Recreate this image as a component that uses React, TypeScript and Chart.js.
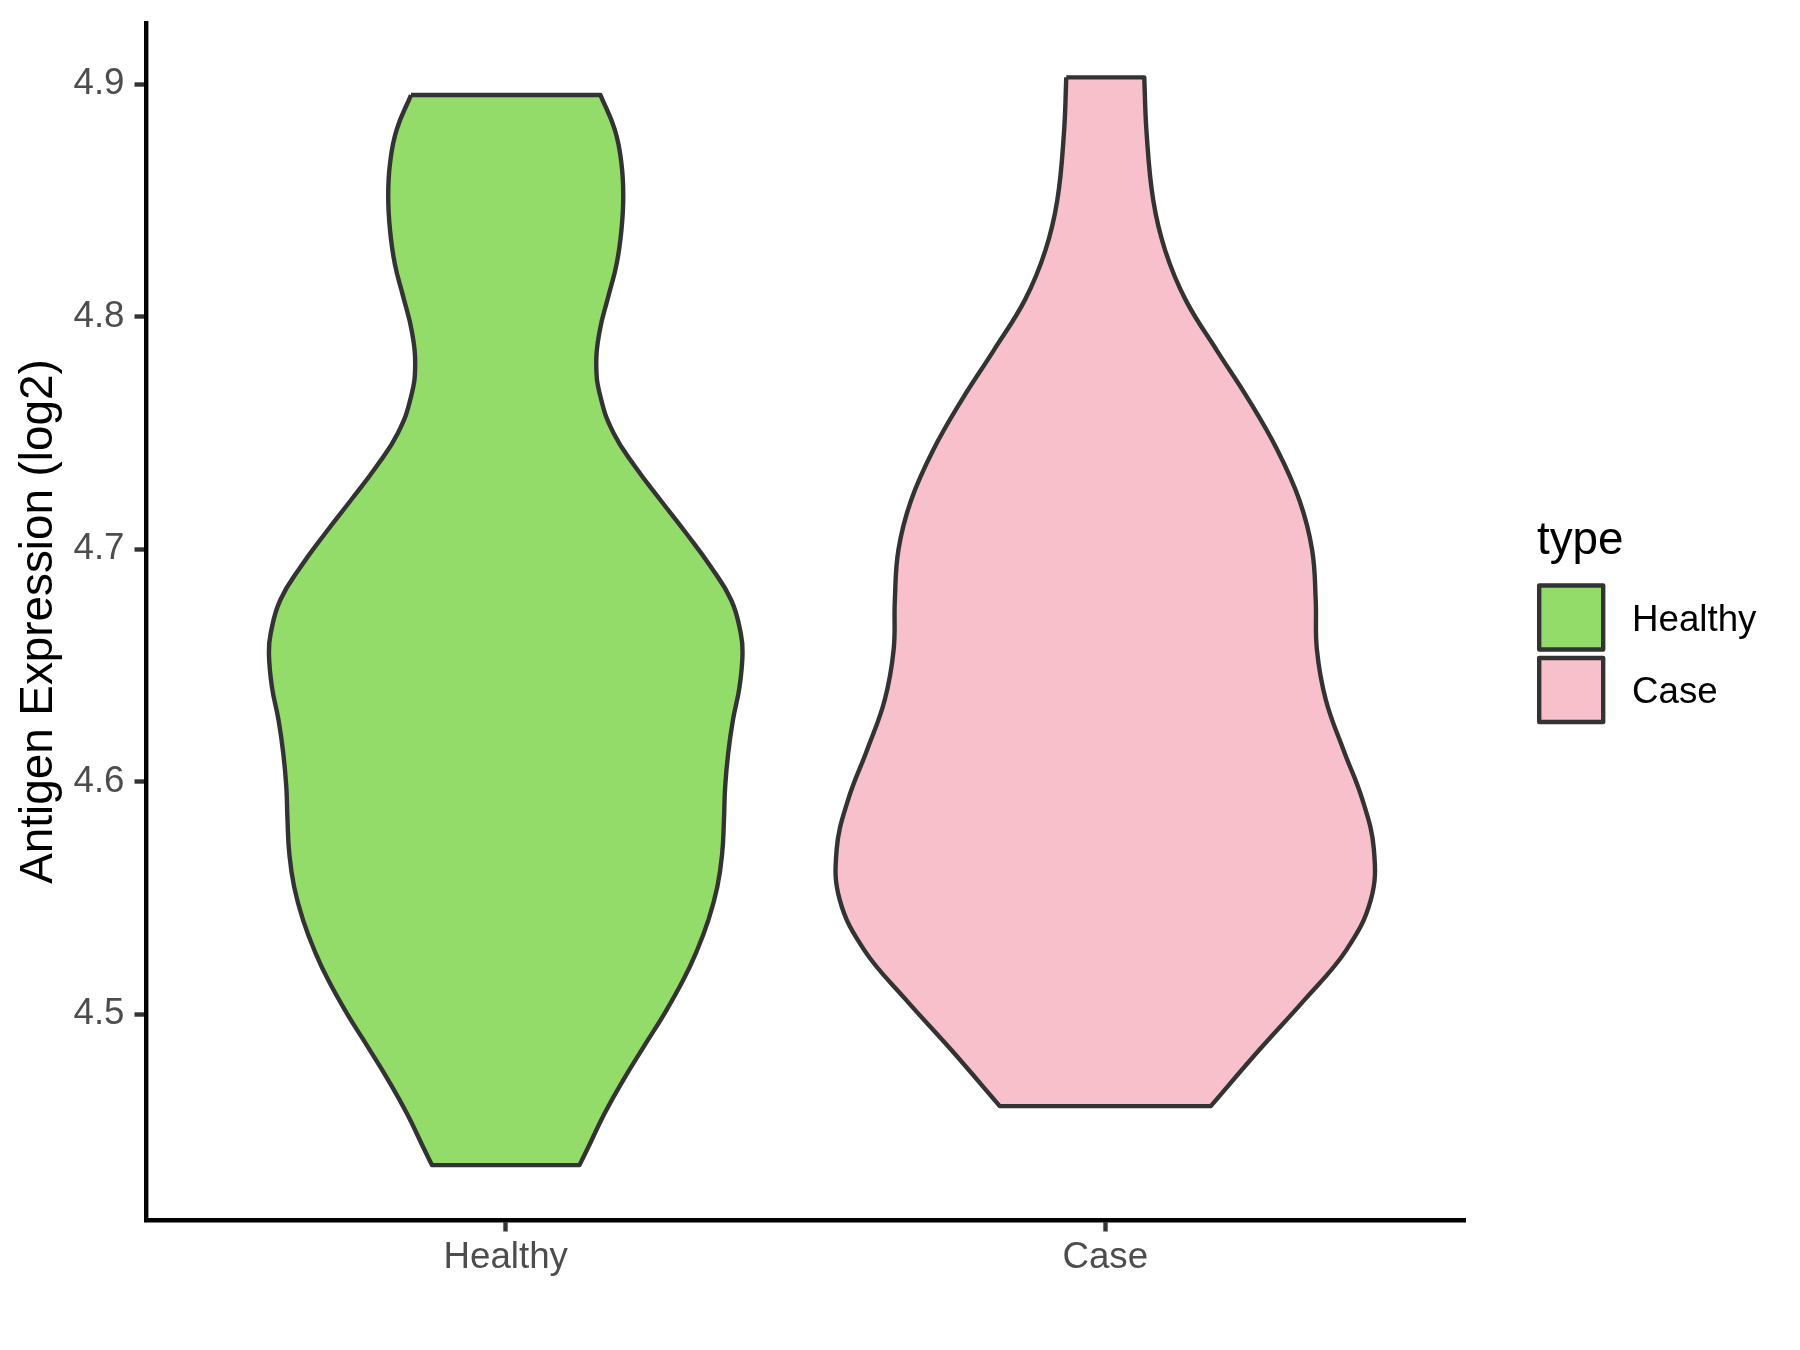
import React, { useEffect, useRef } from "react";
import { Chart, registerables } from "chart.js";

Chart.register(...registerables);

// ---- data ----
const categories = ["Healthy", "Case"];
const fillColors = ["#94DC6A", "#F7C0CB"];
const yTicks = [4.5, 4.6, 4.7, 4.8, 4.9];
const yAxisTitle = "Antigen Expression (log2)";
const legendTitle = "type";

// violin outline: expression values (top -> bottom) and half widths (x units)
const healthyValues = [
  4.8954, 4.8804, 4.866, 4.8517, 4.8374, 4.8228, 4.8087, 4.7943, 4.78, 4.7656, 4.7499,
  4.7355, 4.7212, 4.7069, 4.6925, 4.6782, 4.6639, 4.6553, 4.6409, 4.6266, 4.6122, 4.5979,
  4.5836, 4.5692, 4.5549, 4.5405, 4.5262, 4.5147, 4.5004, 4.486, 4.4717, 4.4574, 4.443, 4.4351,
];
const healthyHalfWidths = [
  0.158, 0.182, 0.193, 0.196, 0.193, 0.185, 0.171, 0.157, 0.151, 0.158, 0.18,
  0.216, 0.258, 0.301, 0.342, 0.376, 0.392, 0.395, 0.39, 0.379, 0.371, 0.366,
  0.364, 0.361, 0.353, 0.338, 0.317, 0.296, 0.265, 0.23, 0.196, 0.165, 0.138, 0.123,
];
const caseValues = [
  4.903, 4.8788, 4.8502, 4.8285, 4.8073, 4.7856, 4.7644, 4.7427, 4.721, 4.6998, 4.6781,
  4.6568, 4.6351, 4.6139, 4.5922, 4.571, 4.5493, 4.5276, 4.5064, 4.4847, 4.4605,
];
const caseHalfWidths = [
  0.065, 0.069, 0.08, 0.1, 0.134, 0.186, 0.239, 0.287, 0.324, 0.345, 0.351,
  0.353, 0.368, 0.397, 0.429, 0.448, 0.443, 0.402, 0.333, 0.257, 0.176,
];

const FONT = "'Liberation Sans', Arial, Helvetica, sans-serif";

function violinPoints(center: number, values: number[], hw: number[]) {
  const pts: { x: number; y: number }[] = [];
  const n = values.length;
  // left side, top -> bottom (corners doubled to keep flat ends straight)
  pts.push({ x: center - hw[0], y: values[0] });
  for (let i = 0; i < n; i++) pts.push({ x: center - hw[i], y: values[i] });
  pts.push({ x: center - hw[n - 1], y: values[n - 1] });
  // right side, bottom -> top
  pts.push({ x: center + hw[n - 1], y: values[n - 1] });
  for (let i = n - 1; i >= 0; i--) pts.push({ x: center + hw[i], y: values[i] });
  pts.push({ x: center + hw[0], y: values[0] });
  pts.push({ x: center - hw[0], y: values[0] });
  return pts;
}

const legendPlugin = {
  id: "ggLegend",
  afterDraw(chart: any) {
    const ctx = chart.ctx as CanvasRenderingContext2D;
    const area = chart.chartArea;
    const x0 = area.right + 72;
    ctx.save();
    ctx.fillStyle = "#000000";
    ctx.font = `45.8px ${FONT}`;
    ctx.textAlign = "left";
    ctx.textBaseline = "alphabetic";
    ctx.fillText(legendTitle, x0, 554);
    const boxSize = 64;
    const tops = [585.5, 658];
    categories.forEach((cat, i) => {
      ctx.fillStyle = fillColors[i];
      ctx.fillRect(x0 + 2.2, tops[i], boxSize, boxSize);
      ctx.strokeStyle = "#333333";
      ctx.lineWidth = 4.4;
      ctx.lineJoin = "round";
      ctx.strokeRect(x0 + 2.2, tops[i], boxSize, boxSize);
      ctx.fillStyle = "#000000";
      ctx.font = `36.7px ${FONT}`;
      ctx.fillText(cat, x0 + 95, tops[i] + 45);
    });
    ctx.restore();
  },
};

export default function App() {
  const ref = useRef<HTMLCanvasElement>(null);
  useEffect(() => {
    if (!ref.current) return;
    const datasets = [
      {
        label: categories[0],
        data: violinPoints(1, healthyValues, healthyHalfWidths),
        borderColor: "#333333",
        backgroundColor: fillColors[0],
        borderWidth: 4.4,
        fill: "shape",
        tension: 0.45,
        pointRadius: 0,
        borderJoinStyle: "round",
      },
      {
        label: categories[1],
        data: violinPoints(2, caseValues, caseHalfWidths),
        borderColor: "#333333",
        backgroundColor: fillColors[1],
        borderWidth: 4.4,
        fill: "shape",
        tension: 0.4,
        pointRadius: 0,
        borderJoinStyle: "round",
      },
    ];
    const chart = new Chart(ref.current, {
      type: "line",
      data: { datasets } as any,
      plugins: [legendPlugin],
      options: {
        animation: false,
        responsive: false,
        devicePixelRatio: 1,
        layout: { padding: { top: 23, right: 335, bottom: 0, left: 0 } },
        plugins: { legend: { display: false }, tooltip: { enabled: false } },
        scales: {
          x: {
            type: "linear",
            min: 0.4,
            max: 2.6,
            afterBuildTicks: (scale: any) => {
              scale.ticks = categories.map((_, i) => ({ value: i + 1 }));
            },
            afterFit: (scale: any) => {
              scale.height = 130;
              scale.paddingLeft = 0;
              scale.paddingRight = 0;
            },
            ticks: {
              callback: (v: any) => categories[Math.round(Number(v)) - 1] ?? "",
              color: "#4D4D4D",
              font: { family: FONT, size: 36.7 },
              padding: 4,
              maxRotation: 0,
              autoSkip: false,
            },
            grid: {
              display: true,
              drawOnChartArea: false,
              drawTicks: true,
              tickLength: 11.5,
              tickWidth: 4.4,
              tickColor: "#333333",
            },
            border: { display: true, color: "#000000", width: 4.4 },
          },
          y: {
            type: "linear",
            min: 4.4115,
            max: 4.9264,
            afterBuildTicks: (scale: any) => {
              scale.ticks = yTicks.map((v) => ({ value: v }));
            },
            afterFit: (scale: any) => {
              scale.width = 146;
              scale.paddingTop = 0;
              scale.paddingBottom = 0;
            },
            ticks: {
              callback: (v: any) => Number(v).toFixed(1),
              color: "#4D4D4D",
              font: { family: FONT, size: 36.7 },
              padding: 10,
            },
            grid: {
              display: true,
              drawOnChartArea: false,
              drawTicks: true,
              tickLength: 11.5,
              tickWidth: 4.4,
              tickColor: "#333333",
            },
            border: { display: true, color: "#000000", width: 4.4 },
            title: {
              display: true,
              text: yAxisTitle,
              color: "#000000",
              font: { family: FONT, size: 45.8 },
              padding: { top: 12, bottom: 0 },
            },
          },
        },
      } as any,
    });
    return () => chart.destroy();
  }, []);
  return (
    <div style={{ position: "absolute", left: 0, top: 0, width: 1800, height: 1350, background: "#ffffff" }}>
      <canvas ref={ref} width={1800} height={1350} style={{ display: "block" }} />
    </div>
  );
}
